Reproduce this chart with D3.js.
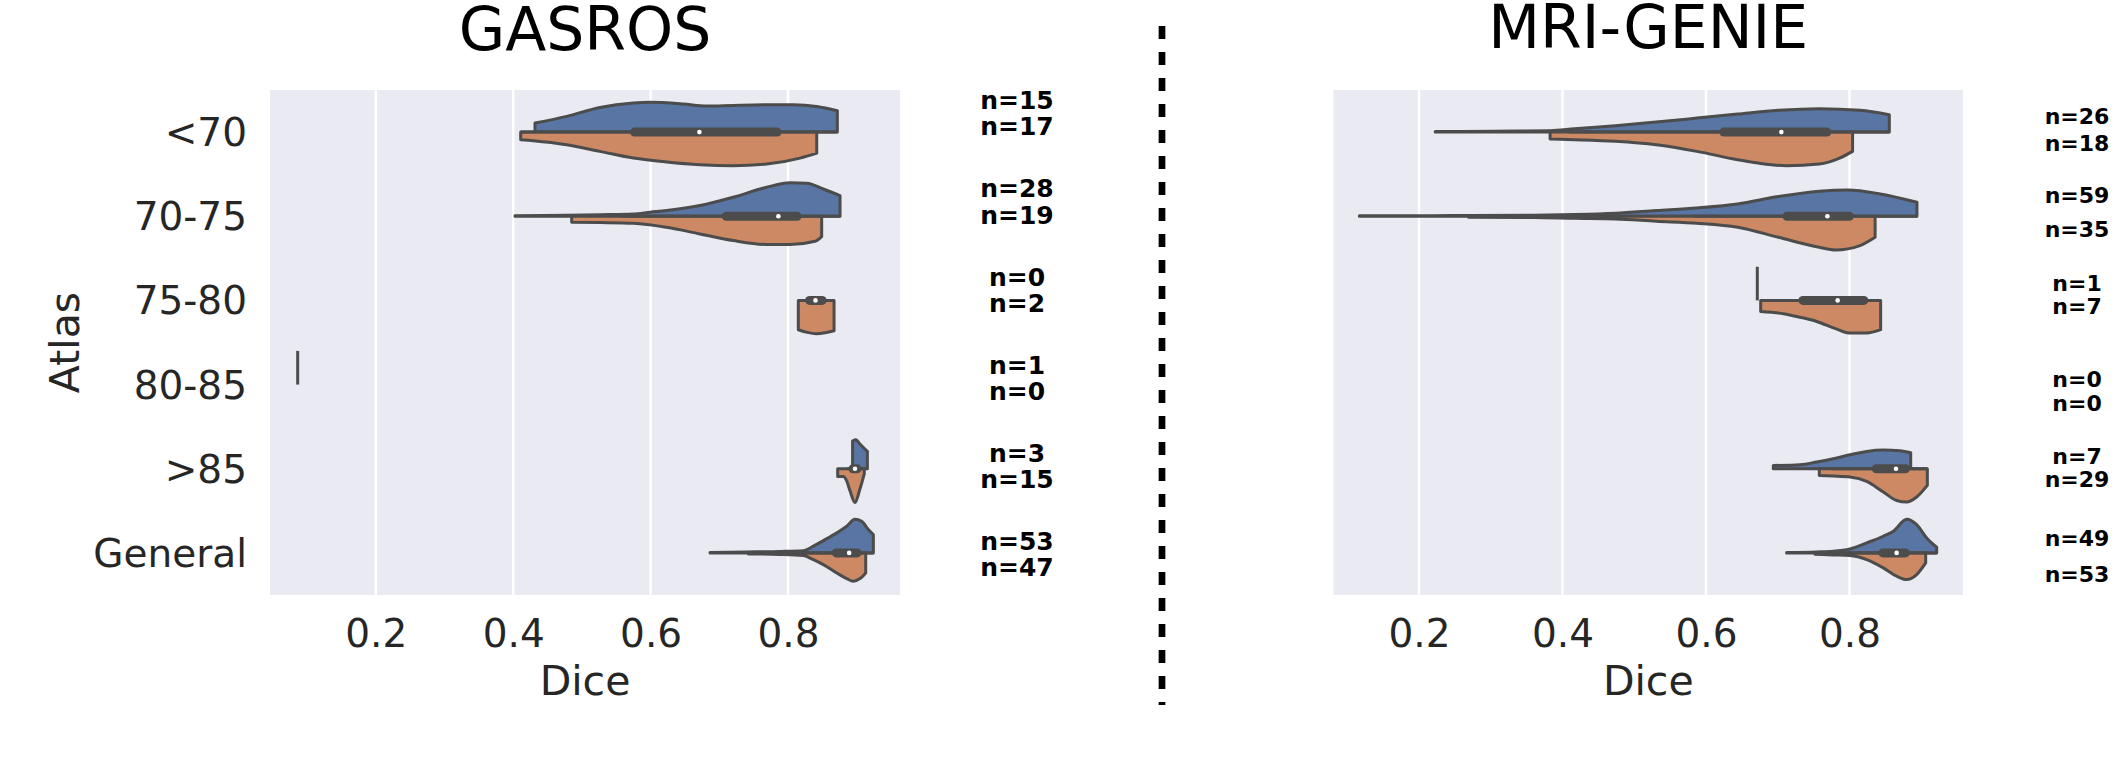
<!DOCTYPE html>
<html><head><meta charset="utf-8">
<script src="https://cdn.jsdelivr.net/npm/d3@7"></script>
<style>body{margin:0;background:#fff} svg{display:block}</style>
</head><body>
<svg id="chart" width="2112" height="777"></svg>
<script>
// ---------------- DATA ----------------
const categories = ["<70", "70-75", "75-80", "80-85", ">85", "General"];
const xTickValues = [0.2, 0.4, 0.6, 0.8];
const panelTitles = ["GASROS", "MRI-GENIE"];
const xAxisLabel = "Dice";
const yAxisLabel = "Atlas";

// sample counts per category (blue hue, orange hue)
const gasrosCountBlue   = [15, 28, 0, 1, 3, 53];
const gasrosCountOrange = [17, 19, 2, 0, 15, 47];
const mriCountBlue      = [26, 59, 1, 0, 7, 49];
const mriCountOrange    = [18, 35, 7, 0, 29, 53];

// violin half profiles: [Dice value, density half-width (fraction of band)]
const gasrosBlue = [
  [[0.4317,0.107],[0.4779,0.187],[0.5263,0.293],[0.5749,0.345],[0.5991,0.353],[0.6476,0.333],[0.6817,0.309],[0.7204,0.317],[0.7690,0.324],[0.8077,0.324],[0.8418,0.305],[0.8718,0.253]],
  [[0.4026,0.006],[0.4779,0.012],[0.5263,0.018],[0.5749,0.027],[0.5991,0.048],[0.6234,0.068],[0.6719,0.127],[0.7204,0.226],[0.7690,0.345],[0.8029,0.398],[0.8272,0.392],[0.8514,0.324],[0.8757,0.246]],
  null,
  null,
  [[0.894,0.33],[0.899,0.345],[0.904,0.30],[0.910,0.25],[0.9155,0.206]],
  [[0.6865,0.006],[0.7398,0.012],[0.7884,0.018],[0.8223,0.027],[0.8369,0.08],[0.8514,0.146],[0.8709,0.238],[0.8854,0.317],[0.8975,0.4],[0.9073,0.377],[0.9169,0.277],[0.9242,0.217]]
];
const gasrosOrange = [
  [[0.4109,0.091],[0.4293,0.103],[0.4779,0.151],[0.5263,0.229],[0.5749,0.309],[0.6234,0.356],[0.6719,0.388],[0.7204,0.4],[0.7690,0.380],[0.8175,0.309],[0.8418,0.25]],
  [[0.4851,0.071],[0.5263,0.075],[0.5749,0.083],[0.6234,0.131],[0.6719,0.21],[0.7204,0.289],[0.7690,0.336],[0.8029,0.336],[0.8393,0.297],[0.849,0.241]],
  [[0.815,0.348],[0.828,0.38],[0.841,0.396],[0.854,0.385],[0.867,0.36]],
  null,
  [[0.8723,0.091],[0.8805,0.091],[0.8854,0.143],[0.8902,0.261],[0.8975,0.4],[0.9048,0.238],[0.911,0.06]],
  [[0.7423,0.012],[0.7884,0.018],[0.8223,0.032],[0.8369,0.08],[0.8514,0.139],[0.8709,0.238],[0.8854,0.305],[0.8951,0.336],[0.9048,0.305],[0.9131,0.238]]
];
const mriBlue = [
  [[0.2226,0.006],[0.3033,0.01],[0.3827,0.016],[0.4168,0.039],[0.4737,0.075],[0.5305,0.119],[0.5873,0.166],[0.6442,0.214],[0.7009,0.258],[0.7578,0.277],[0.8146,0.258],[0.8555,0.206]],
  [[0.1169,0.006],[0.2464,0.008],[0.36,0.012],[0.4168,0.02],[0.4737,0.036],[0.5305,0.068],[0.5873,0.099],[0.6442,0.146],[0.7009,0.234],[0.7578,0.297],[0.7975,0.312],[0.843,0.265],[0.894,0.166]],
  null,
  null,
  [[0.6938,0.039],[0.731,0.048],[0.7542,0.08],[0.7774,0.119],[0.8007,0.166],[0.8239,0.206],[0.8471,0.222],[0.8704,0.214],[0.8853,0.19]],
  [[0.7124,0.006],[0.7542,0.012],[0.7774,0.02],[0.8007,0.048],[0.8239,0.119],[0.8471,0.198],[0.8611,0.258],[0.8797,0.4],[0.8936,0.336],[0.9076,0.178],[0.9215,0.068]]
];
const mriOrange = [
  [[0.3827,0.083],[0.4168,0.091],[0.4737,0.11],[0.5305,0.151],[0.5873,0.229],[0.6442,0.329],[0.6725,0.368],[0.7123,0.4],[0.7578,0.38],[0.7862,0.309],[0.8043,0.229]],
  [[0.2691,0.012],[0.36,0.015],[0.4168,0.024],[0.4737,0.032],[0.5305,0.059],[0.5873,0.083],[0.6442,0.131],[0.7009,0.25],[0.7578,0.368],[0.7805,0.4],[0.8146,0.348],[0.8357,0.25]],
  [[0.6762,0.131],[0.7077,0.158],[0.731,0.2],[0.7542,0.25],[0.7821,0.341],[0.8007,0.388],[0.8239,0.388],[0.8434,0.348]],
  null,
  [[0.7579,0.08],[0.7774,0.087],[0.8007,0.099],[0.8239,0.151],[0.8471,0.277],[0.8657,0.377],[0.8797,0.396],[0.8936,0.336],[0.9085,0.198]],
  [[0.7519,0.015],[0.7774,0.024],[0.8007,0.032],[0.8239,0.08],[0.8471,0.178],[0.8657,0.277],[0.8797,0.317],[0.8936,0.258],[0.9062,0.119]]
];

// single observations (drawn as a line), blue hue
const gasrosSingleBlue = [null, null, null, 0.0863, null, null];
const mriSingleBlue    = [null, null, 0.6715, null, null, null];

// inner box: [q1, median, q3]
const gasrosBox = [[0.5766,0.671,0.7842],[0.7101,0.786,0.8133],[0.8314,0.840,0.8497],null,[0.8946,0.8975,0.9004],[0.8702,0.889,0.9007]];
const mriBox    = [[0.6248,0.705,0.7685],[0.7129,0.7692,0.7998],[0.735,0.7835,0.82],null,[0.8373,0.8648,0.878],[0.8465,0.8657,0.878]];

// ---------------- LAYOUT / STYLE ----------------
const plotTop = 90, plotBottom = 595;
const colBlue = "#5875a3", colOrange = "#cc8963", colLine = "#4c4c4c";
const bgAxes = "#eaeaf2", textCol = "#262626";
const font = "DejaVu Sans, Liberation Sans, sans-serif";

const panels = [
  { title: panelTitles[0], blue: gasrosBlue, orange: gasrosOrange, single: gasrosSingleBlue, box: gasrosBox,
    nB: gasrosCountBlue, nO: gasrosCountOrange, range: [270, 900], domain: [0.0460, 0.9630],
    showY: true, titleBase: 50, labelX: 1017, labelFs: 25,
    yB: [100, 188.3, 276.8, 365.3, 452.8, 540.8], yO: [125.8, 214.5, 303, 391.2, 478.8, 566.8] },
  { title: panelTitles[1], blue: mriBlue, orange: mriOrange, single: mriSingleBlue, box: mriBox,
    nB: mriCountBlue, nO: mriCountOrange, range: [1333.5, 1963], domain: [0.0808, 0.9582],
    showY: false, titleBase: 48, labelX: 2077, labelFs: 22,
    yB: [115.8, 195, 283, 379.2, 456, 537.5], yO: [142.5, 229.2, 306, 403.2, 479, 574.2] }
];

const svg = d3.select("#chart");

const y = d3.scaleBand().domain(categories).range([plotTop, plotBottom]).padding(0);
const bw = y.bandwidth();

panels.forEach(p => {
  const x = d3.scaleLinear().domain(p.domain).range(p.range);
  const g = svg.append("g");

  g.append("rect").attr("x", p.range[0]).attr("y", plotTop)
    .attr("width", p.range[1] - p.range[0]).attr("height", plotBottom - plotTop).attr("fill", bgAxes);

  // grid
  g.selectAll("line.grid").data(xTickValues).join("line").attr("class", "grid")
    .attr("x1", d => x(d)).attr("x2", d => x(d)).attr("y1", plotTop).attr("y2", plotBottom)
    .attr("stroke", "#fff").attr("stroke-width", 2.5);

  // x axis
  const xa = g.append("g").attr("transform", `translate(0,646.5)`)
    .call(d3.axisBottom(x).tickValues(xTickValues).tickSize(0).tickFormat(d3.format(".1f")));
  xa.select(".domain").remove();
  xa.selectAll("text").attr("y", 0).attr("dy", 0).attr("font-size", 39)
    .attr("font-family", font).attr("fill", textCol);

  g.append("text").attr("x", (p.range[0] + p.range[1]) / 2).attr("y", 695)
    .attr("text-anchor", "middle").attr("font-size", 41).attr("font-family", font)
    .attr("fill", textCol).text(xAxisLabel);

  // y axis
  if (p.showY) {
    const ya = g.append("g").attr("transform", `translate(${p.range[0]},0)`)
      .call(d3.axisLeft(y).tickSize(0).tickPadding(23));
    ya.select(".domain").remove();
    ya.selectAll("text").attr("dy", "0.36em").attr("font-size", 39)
      .attr("font-family", font).attr("fill", textCol);
    g.append("text").attr("transform", `translate(79,${(plotTop + plotBottom) / 2}) rotate(-90)`)
      .attr("text-anchor", "middle").attr("font-size", 41).attr("font-family", font)
      .attr("fill", textCol).text(yAxisLabel);
  }

  // title
  g.append("text").attr("x", (p.range[0] + p.range[1]) / 2).attr("y", p.titleBase)
    .attr("text-anchor", "middle").attr("font-size", 60).attr("font-family", font)
    .attr("fill", "#000").text(p.title);

  // violins
  categories.forEach((cat, i) => {
    const c = y(cat) + bw / 2;
    const top = d3.area().x(d => x(d[0])).y0(c).y1(d => c - d[1] * bw).curve(d3.curveMonotoneX);
    const bot = d3.area().x(d => x(d[0])).y0(c).y1(d => c + d[1] * bw).curve(d3.curveMonotoneX);
    if (p.blue[i]) g.append("path").attr("d", top(p.blue[i])).attr("fill", colBlue)
      .attr("stroke", colLine).attr("stroke-width", 3).attr("stroke-linejoin", "round");
    if (p.orange[i]) g.append("path").attr("d", bot(p.orange[i])).attr("fill", colOrange)
      .attr("stroke", colLine).attr("stroke-width", 3).attr("stroke-linejoin", "round");
    if (p.single[i] != null) g.append("line")
      .attr("x1", x(p.single[i])).attr("x2", x(p.single[i]))
      .attr("y1", c).attr("y2", c - 0.4 * bw).attr("stroke", colLine).attr("stroke-width", 3);
    const b = p.box[i];
    if (b) {
      const all = [].concat(p.blue[i] || [], p.orange[i] || []).map(d => d[0]);
      const iqr = b[2] - b[0];
      const wLo = Math.max(d3.min(all), b[0] - 1.5 * iqr);
      const wHi = Math.min(d3.max(all), b[2] + 1.5 * iqr);
      g.append("line").attr("x1", x(wLo)).attr("x2", x(wHi)).attr("y1", c).attr("y2", c)
        .attr("stroke", colLine).attr("stroke-width", 3);
      g.append("line").attr("x1", x(b[0])).attr("x2", x(b[2])).attr("y1", c).attr("y2", c)
        .attr("stroke", colLine).attr("stroke-width", 9).attr("stroke-linecap", "round");
      g.append("circle").attr("cx", x(b[1])).attr("cy", c).attr("r", 2.3).attr("fill", "#fff");
    }
  });

  // count labels
  categories.forEach((cat, i) => {
    [[p.nB[i], p.yB[i]], [p.nO[i], p.yO[i]]].forEach(([n, yy]) => {
      g.append("text").attr("x", p.labelX).attr("y", yy + 0.3645 * p.labelFs)
        .attr("text-anchor", "middle").attr("font-size", p.labelFs).attr("font-weight", "bold")
        .attr("font-family", font).attr("fill", "#000").text("n=" + n);
    });
  });
});

// dashed divider
svg.append("line").attr("x1", 1162).attr("x2", 1162).attr("y1", 26).attr("y2", 705)
  .attr("stroke", "#000").attr("stroke-width", 6.7).attr("stroke-dasharray", "13 13");
</script>
</body></html>
